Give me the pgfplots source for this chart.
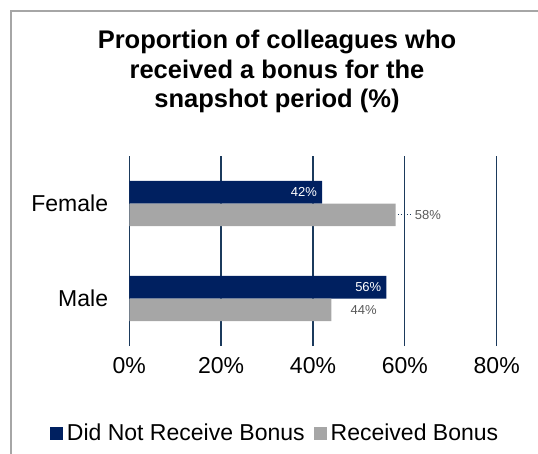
\documentclass[border=0pt]{standalone}
\usepackage{pgfplots}
\pgfplotsset{compat=1.18}
\usepackage{fontspec}
\setmainfont{Liberation Sans}
\definecolor{navy}{HTML}{002060}
\definecolor{barg}{HTML}{A6A6A6}
\definecolor{gridc}{HTML}{1B3A5C}
\definecolor{framec}{HTML}{A6A6A6}
\definecolor{lblg}{HTML}{595959}
\pgfplotstableread{
x y
58 0.8815
44 -0.1185
}\received
\pgfplotstableread{
x y
42 1.1185
56 0.1185
}\notreceived
\begin{document}
\begin{tikzpicture}[x=1pt,y=1pt]
\useasboundingbox (0,0) rectangle (538,-454);
\draw[framec, line width=1.5pt] (11,-480) -- (11,-11) -- (580,-11);
\node[anchor=base, font=\bfseries\fontsize{25.5}{29.5}\selectfont, inner sep=0pt] at (277,-49) {Proportion of colleagues who};
\node[anchor=base, font=\bfseries\fontsize{25.5}{29.5}\selectfont, inner sep=0pt] at (277,-78.5) {received a bonus for the};
\node[anchor=base, font=\bfseries\fontsize{25.5}{29.5}\selectfont, inner sep=0pt] at (277,-108) {snapshot period (\%)};
\begin{axis}[
  at={(129.3pt,-346pt)}, anchor=south west,
  scale only axis, width=367.4pt, height=190pt,
  xmin=0, xmax=80, ymin=-0.5, ymax=1.5,
  xtick={0,20,40,60,80}, xticklabels={0\%,20\%,40\%,60\%,80\%},
  ytick={0,1}, yticklabels={Male,Female},
  major tick length=0pt,
  axis line style={draw=none},
  xmajorgrids, major grid style={gridc, line width=1.3pt},
  tick label style={font=\fontsize{23}{27}\selectfont, inner sep=0pt},
  xticklabel style={yshift=-11pt},
  yticklabel style={xshift=-21pt},
  /pgf/number format/assume math mode=true,
  xbar, bar shift=0pt, bar width=0.237,
  clip=false,
  legend columns=2,
  legend style={at={(0.394,-0.458)}, anchor=center, draw=none, fill=none,
    font=\fontsize{23}{27}\selectfont, nodes={inner sep=0pt},
    /tikz/every odd column/.append style={column sep=4pt},
    /tikz/every even column/.append style={column sep=9pt}},
  legend image code/.code={\fill[#1] (0pt,-6.5pt) rectangle (13pt,6.5pt);},
]
\addplot[fill=navy, draw=none, point meta=x,
  nodes near coords={\pgfmathprintnumber{\pgfplotspointmeta}\%},
  every node near coord/.append style={anchor=east, text=white, font=\fontsize{13}{15}\selectfont, inner sep=0pt, xshift=-5pt}]
  table[x=x, y=y] {\notreceived};
\addplot[fill=barg, draw=none, point meta=x,
  nodes near coords={\pgfmathprintnumber{\pgfplotspointmeta}\%},
  every node near coord/.append style={anchor=west, text=lblg, font=\fontsize{13}{15}\selectfont, inner sep=0pt, xshift=19pt}]
  table[x=x, y=y] {\received};
\draw[dotted, gridc, line width=1pt] (axis cs:58.5,0.8815) -- (axis cs:61.6,0.8815);
\legend{Did Not Receive Bonus, Received Bonus}
\end{axis}
\end{tikzpicture}
\end{document}
